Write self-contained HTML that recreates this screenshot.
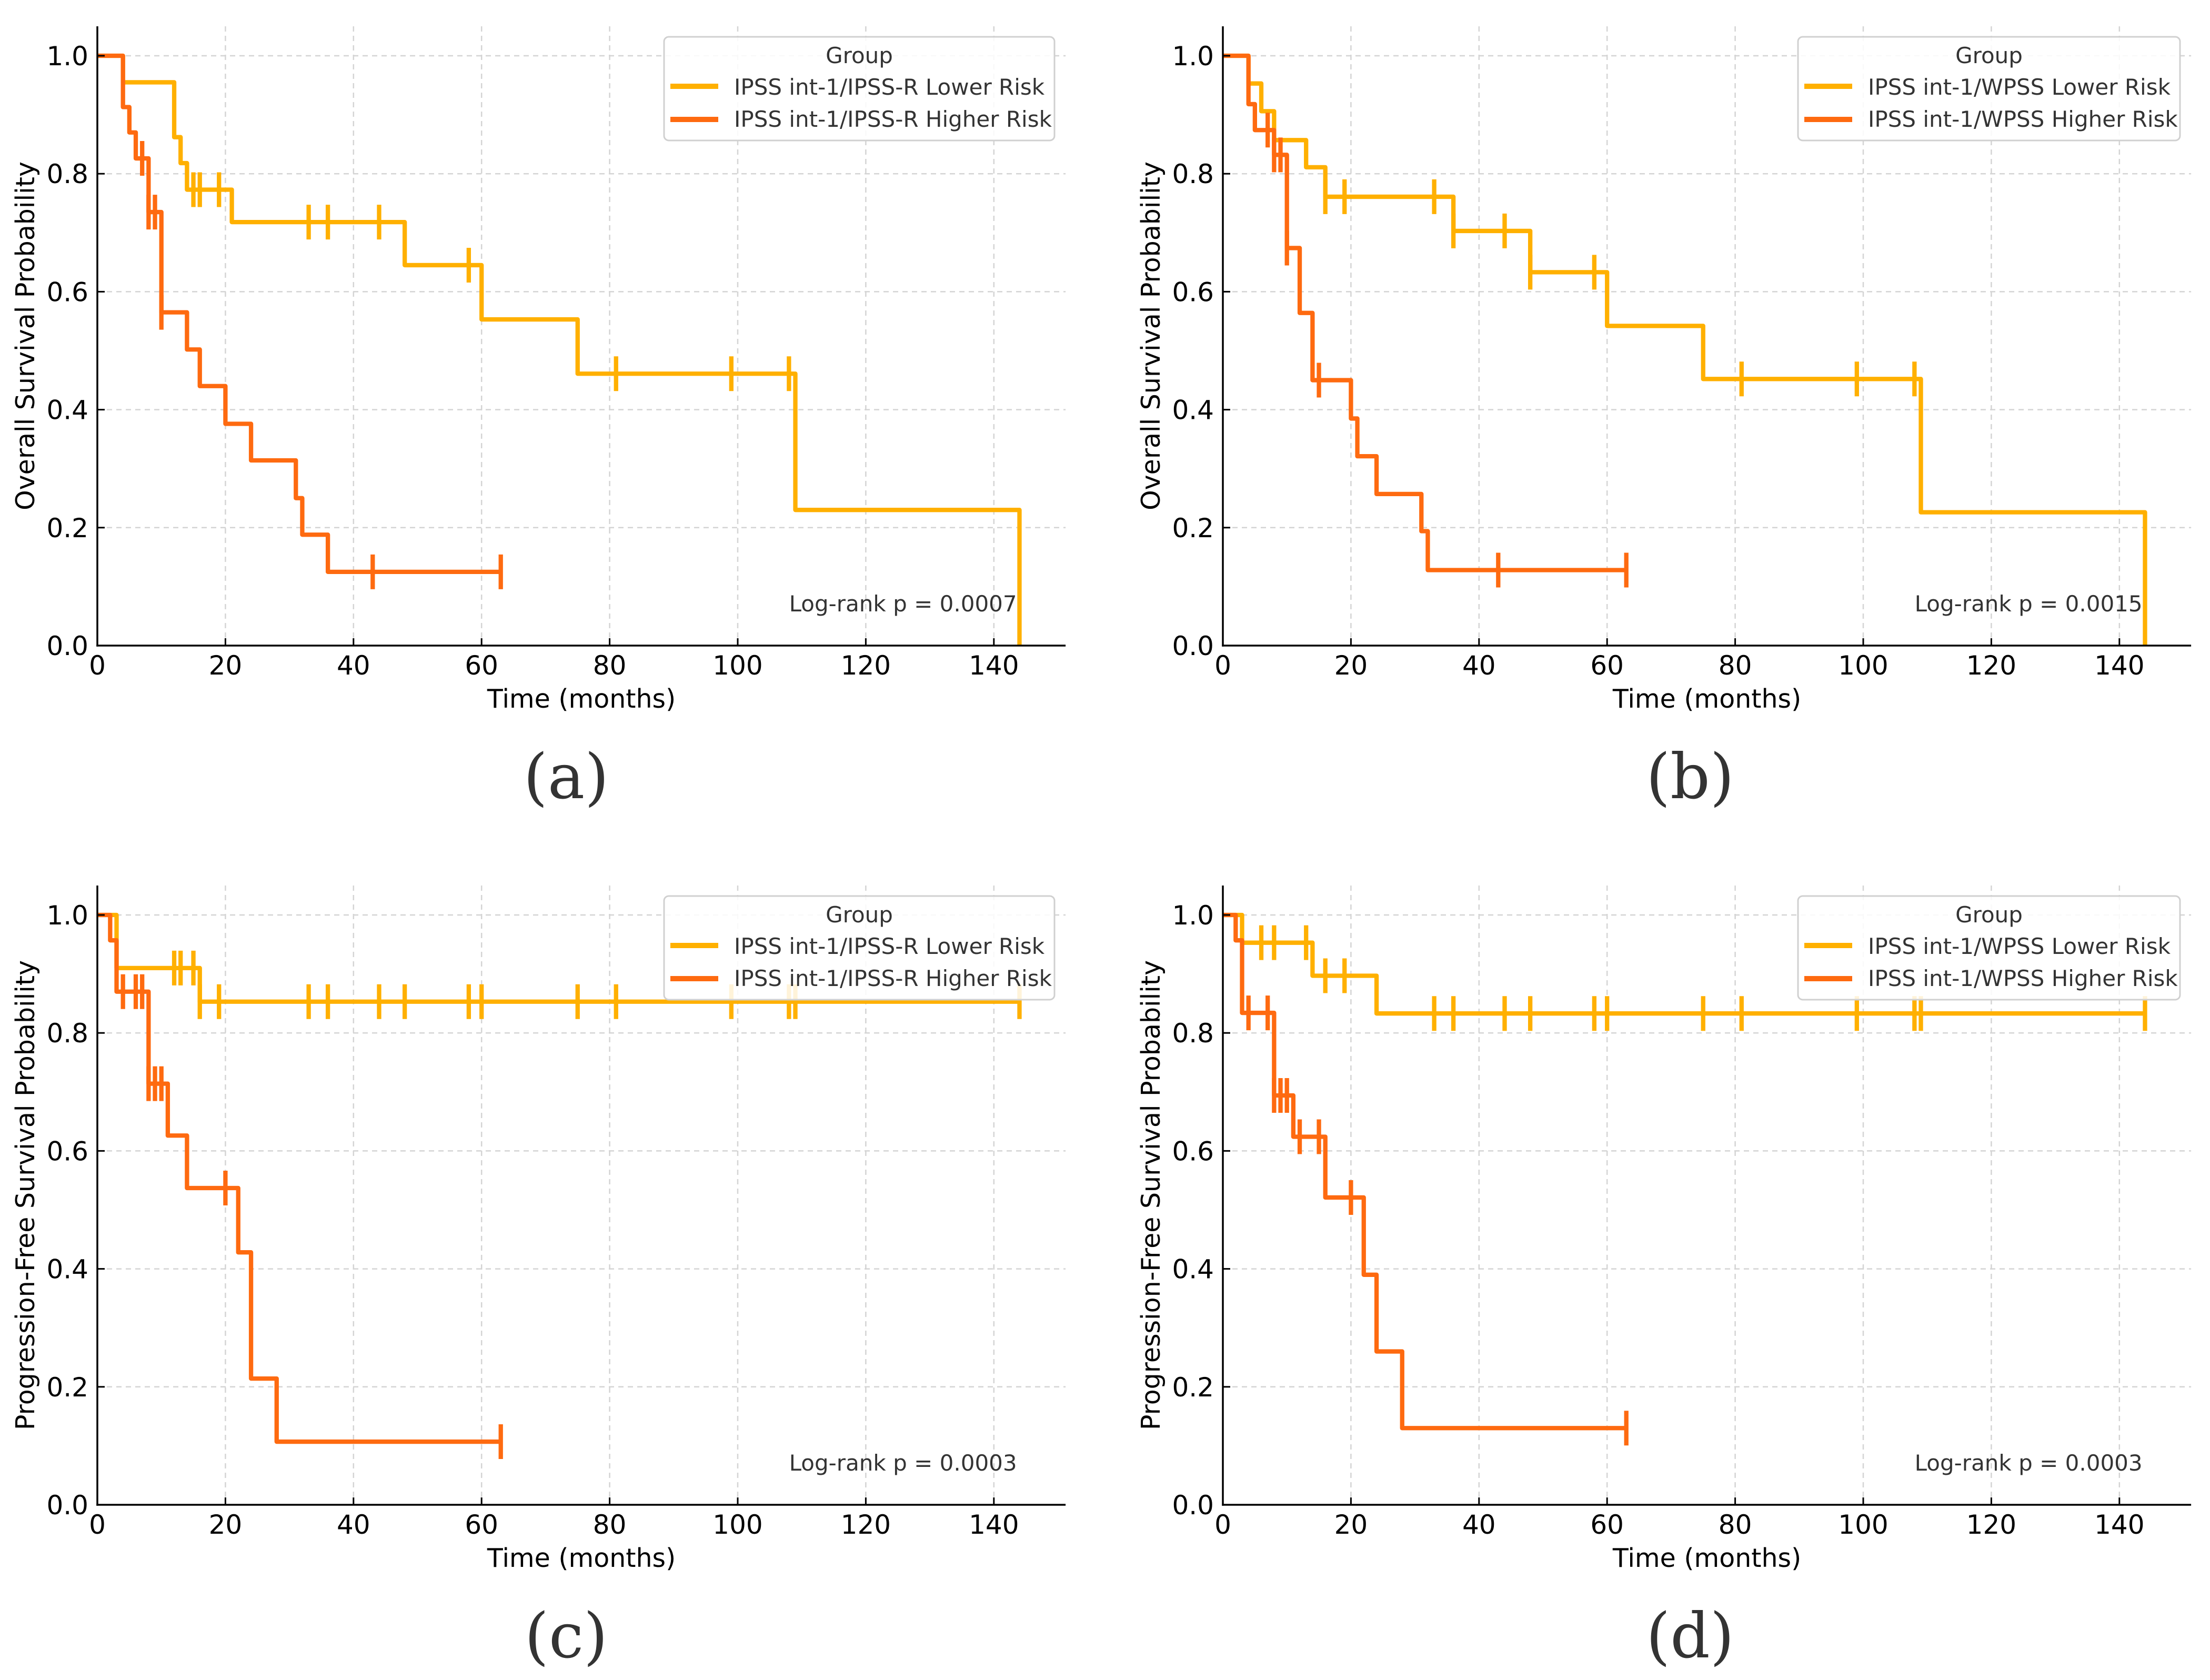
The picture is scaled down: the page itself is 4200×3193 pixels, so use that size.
<!DOCTYPE html>
<html><head><meta charset="utf-8">
<style>
html,body{margin:0;padding:0;background:#fff;}
svg{display:block;}
text{font-family:"DejaVu Sans","Liberation Sans",sans-serif;}
</style></head>
<body>
<svg id="fig" xmlns="http://www.w3.org/2000/svg" width="4200" height="3193" viewBox="0 0 4200 3193">
<rect width="4200" height="3193" fill="#fff"/>
</svg>
<script>
// ---- data (months, survival probability) ----
const xTicks = [0,20,40,60,80,100,120,140];
const yTicks = [0,0.2,0.4,0.6,0.8,1.0];
const yTickLabels = ["0.0","0.2","0.4","0.6","0.8","1.0"];

const aLowTimes = [0,4,12,13,14,21,48,60,75,109,144];
const aLowSurv  = [1,0.955,0.862,0.818,0.773,0.718,0.645,0.553,0.461,0.230,0];
const aLowCens  = [15,16,19,33,36,44,58,81,99,108];
const aLowEnd   = 144;
const aHighTimes = [0,4,5,6,8,10,14,16,20,24,31,32,36];
const aHighSurv  = [1,0.913,0.870,0.826,0.735,0.565,0.502,0.440,0.376,0.314,0.25,0.188,0.125];
const aHighCens  = [7,8,9,10,43,63];
const aHighEnd   = 63;

const bLowTimes = [0,4,6,8,13,16,36,48,60,75,109,144];
const bLowSurv  = [1,0.953,0.906,0.857,0.811,0.761,0.703,0.633,0.542,0.452,0.226,0];
const bLowCens  = [16,19,33,36,44,48,58,81,99,108];
const bLowEnd   = 144;
const bHighTimes = [0,4,5,8,10,12,14,20,21,24,31,32];
const bHighSurv  = [1,0.918,0.874,0.832,0.674,0.564,0.450,0.385,0.321,0.257,0.194,0.128];
const bHighCens  = [7,8,9,10,15,43,63];
const bHighEnd   = 63;

const cLowTimes = [0,3,16];
const cLowSurv  = [1,0.910,0.853];
const cLowCens  = [12,13,15,16,19,33,36,44,48,58,60,75,81,99,108,109,144];
const cLowEnd   = 144;
const cHighTimes = [0,2,3,8,11,14,22,24,28];
const cHighSurv  = [1,0.957,0.870,0.714,0.626,0.537,0.428,0.214,0.107];
const cHighCens  = [4,6,7,8,9,10,20,63];
const cHighEnd   = 63;

const dLowTimes = [0,3,14,24];
const dLowSurv  = [1,0.953,0.897,0.833];
const dLowCens  = [6,8,13,16,19,33,36,44,48,58,60,75,81,99,108,109,144];
const dLowEnd   = 144;
const dHighTimes = [0,2,3,8,11,16,22,24,28];
const dHighSurv  = [1,0.957,0.834,0.694,0.624,0.521,0.390,0.260,0.130];
const dHighCens  = [4,7,8,9,10,12,15,20,63];
const dHighEnd   = 63;

const pValues = ["0.0007","0.0015","0.0003","0.0003"];
const panelLetters = ["(a)","(b)","(c)","(d)"];

const NS = "http://www.w3.org/2000/svg";
const fig = document.getElementById('fig');
const LOW = "#FFB000", HIGH = "#FE6A10";
const PXM = 12.17, PXY = 1121, XMAX = 151.2, YMAX = 1.05;

function mk(tag, attrs, parent){
  const e = document.createElementNS(NS, tag);
  for (const k in attrs) e.setAttribute(k, attrs[k]);
  (parent||fig).appendChild(e);
  return e;
}
function survAt(times, surv, t){
  let v = surv[0];
  for (let i=0;i<times.length;i++){ if (times[i] <= t) v = surv[i]; }
  return v;
}

const panels = [
  {x0:185, y0:1227, ylab:"Overall Survival Probability", legW:742, scheme:"IPSS-R",
   low:[aLowTimes,aLowSurv,aLowCens,aLowEnd], high:[aHighTimes,aHighSurv,aHighCens,aHighEnd], lx:1076, name:"a"},
  {x0:2324, y0:1227, ylab:"Overall Survival Probability", legW:726, scheme:"WPSS",
   low:[bLowTimes,bLowSurv,bLowCens,bLowEnd], high:[bHighTimes,bHighSurv,bHighCens,bHighEnd], lx:3212, name:"b"},
  {x0:185, y0:2860, ylab:"Progression-Free Survival Probability", legW:742, scheme:"IPSS-R",
   low:[cLowTimes,cLowSurv,cLowCens,cLowEnd], high:[cHighTimes,cHighSurv,cHighCens,cHighEnd], lx:1076, name:"c"},
  {x0:2324, y0:2860, ylab:"Progression-Free Survival Probability", legW:726, scheme:"WPSS",
   low:[dLowTimes,dLowSurv,dLowCens,dLowEnd], high:[dHighTimes,dHighSurv,dHighCens,dHighEnd], lx:3212, name:"d"}
];

panels.forEach((p, pi) => {
  const g = mk('g', {});
  
  
  const X = t => p.x0 + t*PXM;
  const Y = v => p.y0 - v*PXY;
  const top = Y(YMAX), right = X(XMAX);

  // grid
  xTicks.forEach(t => {
    const l = mk('line', {x1:X(t), x2:X(t), y1:top, y2:p.y0, stroke:"#d4d4d4", "stroke-width":2.5, "stroke-dasharray":"10,8"}, g);
    
    
  });
  yTicks.forEach(v => {
    const l = mk('line', {x1:p.x0, x2:right, y1:Y(v), y2:Y(v), stroke:"#d4d4d4", "stroke-width":2.5, "stroke-dasharray":"10,8"}, g);
    
    
  });

  // series
  [[p.low, LOW, 'lower-risk'], [p.high, HIGH, 'higher-risk']].forEach(([s, col, nm]) => {
    const [times, surv, cens, end] = s;
    let d = 'M' + X(times[0]) + ',' + Y(surv[0]);
    for (let i=1;i<times.length;i++){
      d += ' L' + X(times[i]) + ',' + Y(surv[i-1]) + ' L' + X(times[i]) + ',' + Y(surv[i]);
    }
    d += ' L' + X(end) + ',' + Y(surv[surv.length-1]);
    const path = mk('path', {d:d, fill:"none", stroke:col, "stroke-width":8.3, "stroke-linejoin":"round"}, g);
    
    
    cens.forEach(t => {
      const v = survAt(times, surv, t);
      const c = mk('line', {x1:X(t), x2:X(t), y1:Y(v)-33, y2:Y(v)+33, stroke:col, "stroke-width":8.3}, g);
      
      
    });
  });

  // spines
  const sp1 = mk('line', {x1:p.x0, x2:p.x0, y1:top, y2:p.y0+1.75, stroke:"#000", "stroke-width":3.5}, g);
  
  
  const sp2 = mk('line', {x1:p.x0-1.75, x2:right, y1:p.y0, y2:p.y0, stroke:"#000", "stroke-width":3.5}, g);
  
  

  // ticks + labels
  xTicks.forEach(t => {
    mk('line', {x1:X(t), x2:X(t), y1:p.y0, y2:p.y0-14, stroke:"#000", "stroke-width":3}, g);
    const tx = mk('text', {x:X(t), y:p.y0+55, "font-size":50, "text-anchor":"middle", fill:"#000"}, g);
    tx.textContent = String(t);
    
    
  });
  yTicks.forEach((v, i) => {
    mk('line', {x1:p.x0, x2:p.x0+14, y1:Y(v), y2:Y(v), stroke:"#000", "stroke-width":3}, g);
    const ty = mk('text', {x:p.x0-17, y:Y(v)+18, "font-size":50, "text-anchor":"end", fill:"#000"}, g);
    ty.textContent = yTickLabels[i];
    
    
  });

  // axis titles
  const xl = mk('text', {x:(p.x0+right)/2, y:p.y0+118, "font-size":49, "text-anchor":"middle", fill:"#000"}, g);
  xl.textContent = "Time (months)";
  
  
  const yc = (top+p.y0)/2, yx = p.x0-137 + 17;
  const yl = mk('text', {x:yx, y:yc, "font-size":49, "text-anchor":"middle", fill:"#000", transform:"rotate(-90 "+yx+" "+yc+")"}, g);
  yl.textContent = p.ylab;
  
  

  // log-rank text
  const lr = mk('text', {x:X(143.6), y:p.y0-65, "font-size":42, "text-anchor":"end", fill:"#333"}, g);
  lr.textContent = "Log-rank p = " + pValues[pi];
  
  

  // legend
  const lgR = p.x0 + 1819, lgL = lgR - p.legW, lgT = top + 20;
  const lg = mk('g', {}, g);
  
  
  mk('rect', {x:lgL, y:lgT, width:p.legW, height:197, rx:9, fill:"#fff", "fill-opacity":0.85, stroke:"#d0d0d0", "stroke-width":3}, lg);
  const lt = mk('text', {x:lgL+p.legW/2, y:lgT+50, "font-size":42, "text-anchor":"middle", fill:"#333"}, lg);
  lt.textContent = "Group";
  
  
  [["IPSS int-1/"+p.scheme+" Lower Risk", LOW, 94, 110], ["IPSS int-1/"+p.scheme+" Higher Risk", HIGH, 157, 171]].forEach(([txt, col, ly, by]) => {
    const e = mk('g', {}, lg);
    
    
    mk('line', {x1:lgL+12, x2:lgL+103, y1:lgT+ly, y2:lgT+ly, stroke:col, "stroke-width":10}, e);
    const t = mk('text', {x:lgL+133, y:lgT+by, "font-size":42, fill:"#333"}, e);
    t.textContent = txt;
  });

  // panel letter
  const pl = mk('text', {x:p.lx, y:p.y0+290, "font-size":118, "text-anchor":"middle", fill:"#333", "font-family":"'DejaVu Serif','Liberation Serif',serif"}, g);
  pl.setAttribute('style', "font-family:'DejaVu Serif','Liberation Serif',serif");
  pl.textContent = panelLetters[pi];
  
  
});
</script>
</body></html>
